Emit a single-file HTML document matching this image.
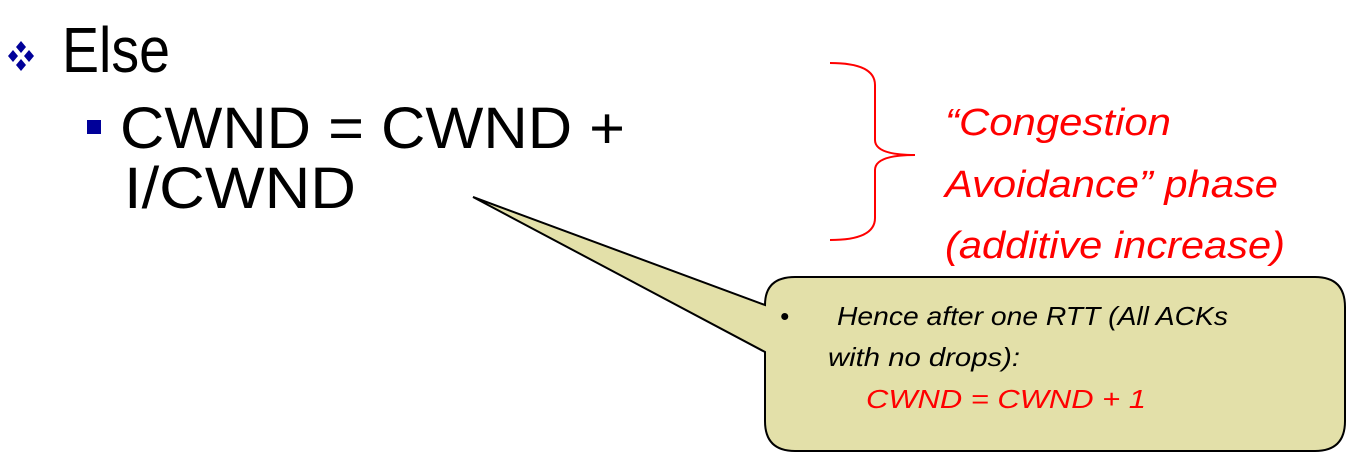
<!DOCTYPE html>
<html><head><style>html,body{margin:0;padding:0;background:#fff}</style></head>
<body>
<svg width="1364" height="471" xmlns="http://www.w3.org/2000/svg" font-family="'Liberation Sans', sans-serif">
<rect width="1364" height="471" fill="#fff"/>
<g fill="#000099">
<polygon points="21,41 26,47 21,53 16,47"/>
<polygon points="13,50 18,56 13,62 8,56"/>
<polygon points="29,50 34,56 29,62 24,56"/>
<polygon points="21,59 26,65 21,71 16,65"/>
</g>
<text x="62" y="72" font-size="64" textLength="108" lengthAdjust="spacingAndGlyphs">Else</text>
<rect x="87" y="120" width="14" height="14" fill="#000099"/>
<text x="120" y="148" font-size="58" textLength="505" lengthAdjust="spacingAndGlyphs">CWND = CWND +</text>
<text x="124" y="208" font-size="58" textLength="232" lengthAdjust="spacingAndGlyphs">I/CWND</text>
<path d="M830,63 Q875,63 875,85 L875,140 Q875,155 915,155 Q875,155 875,170 L875,218 Q875,240 830,240" fill="none" stroke="#ff0000" stroke-width="2"/>
<g fill="#ff0000" font-style="italic" font-size="38">
<text x="945" y="135" textLength="226" lengthAdjust="spacingAndGlyphs">“Congestion</text>
<text x="945" y="197" textLength="333" lengthAdjust="spacingAndGlyphs">Avoidance” phase</text>
<text x="945" y="258" textLength="340" lengthAdjust="spacingAndGlyphs">(additive increase)</text>
</g>
<path d="M795,277 L1315,277 Q1345,277 1345,307 L1345,421 Q1345,451 1315,451 L795,451 Q765,451 765,421 L765,352 L473,197 L765,305 Q765,277 795,277 Z" fill="#e3e0a9" stroke="#000" stroke-width="2"/>
<g font-style="italic" font-size="26">
<text x="780" y="325">•</text>
<text x="837" y="325" textLength="391" lengthAdjust="spacingAndGlyphs">Hence after one RTT (All ACKs</text>
<text x="828" y="366" textLength="192" lengthAdjust="spacingAndGlyphs">with no drops):</text>
<text x="866" y="408" fill="#ff0000" textLength="280" lengthAdjust="spacingAndGlyphs">CWND = CWND + 1</text>
</g>
</svg>
</body></html>
